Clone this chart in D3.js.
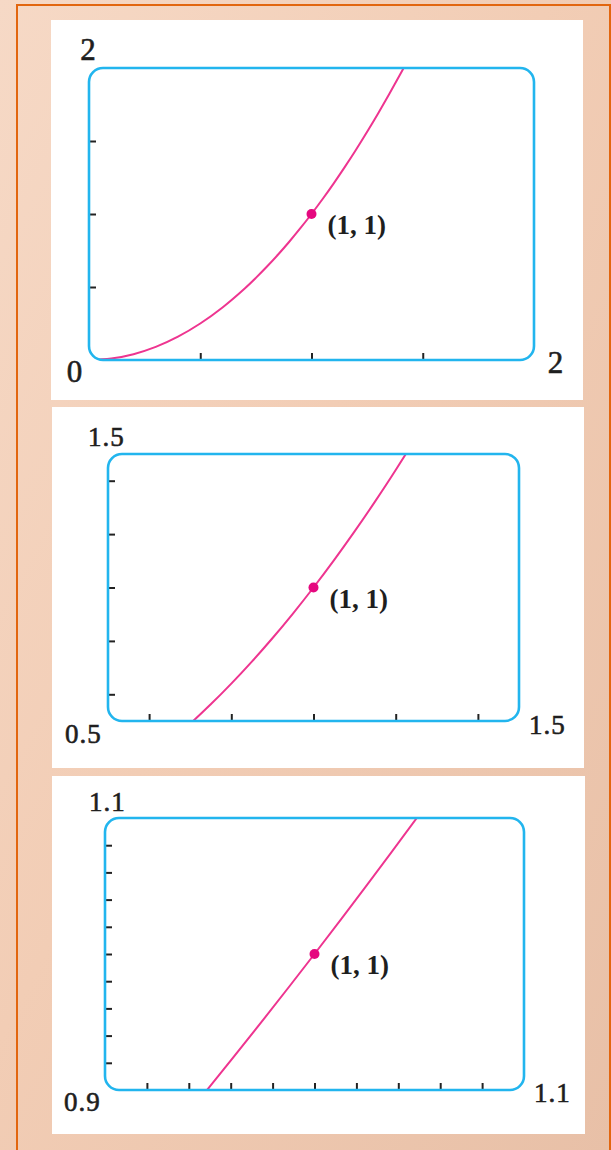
<!DOCTYPE html>
<html>
<head>
<meta charset="utf-8">
<script src="https://cdn.jsdelivr.net/npm/d3@7"></script>
<style>
  body { margin: 0; background: #f3d2bd; }
  svg { display: block; }
</style>
</head>
<body>
<div id="wrapper"></div>
<script>
// three zoom levels of y = x^2 around the point (1, 1)
const xDomains = [[0, 2], [0.5, 1.5], [0.9, 1.1]];
const yDomains = [[0, 2], [0.5, 1.5], [0.9, 1.1]];
const xTicks = [
    [0.5, 1, 1.5],
    [0.6, 0.8, 1.0, 1.2, 1.4],
    [0.92, 0.94, 0.96, 0.98, 1.0, 1.02, 1.04, 1.06, 1.08]
];
const yTicks = [
    [0.5, 1, 1.5],
    [0.6, 0.8, 1.0, 1.2, 1.4],
    [0.92, 0.94, 0.96, 0.98, 1.0, 1.02, 1.04, 1.06, 1.08]
];
const topLabels = ["2", "1.5", "1.1"];
const bottomLabels = ["0", "0.5", "0.9"];
const rightLabels = ["2", "1.5", "1.1"];

// curve
const curveX = [0, 0.1, 0.2, 0.3, 0.4, 0.5, 0.6, 0.7, 0.75, 0.8, 0.85, 0.9, 0.95, 1.0, 1.05, 1.1, 1.15, 1.2, 1.3, 1.4, 1.5];
const curveY = [0, 0.01, 0.04, 0.09, 0.16, 0.25, 0.36, 0.49, 0.5625, 0.64, 0.7225, 0.81, 0.9025, 1.0, 1.1025, 1.21, 1.3225, 1.44, 1.69, 1.96, 2.25];
const pointX = 1;
const pointY = 1;
const pointLabel = "(1, 1)";

// layout of each panel (white card + plot box)
const panels = [
    {card: [51, 20, 532, 380], box: [89, 68, 534, 360], font: 31,
     top: [88.5, 60, "middle"], bottom: [75, 382, "middle"], right: [556, 373, "middle"]},
    {card: [52, 407, 532, 361], box: [108, 454, 519, 721], font: 27,
     top: [88, 446, "start"], bottom: [65, 743, "start"], right: [529, 734, "start"]},
    {card: [52, 776, 533, 358], box: [105, 818, 524, 1090], font: 27,
     top: [89, 811, "start"], bottom: [64, 1111, "start"], right: [534, 1102, "start"]}
];

const dimension = {width: 611, height: 1150};

const svg = d3.select("#wrapper").append("svg")
    .attr("width", dimension.width)
    .attr("height", dimension.height);

const defs = svg.append("defs");
const grad = defs.append("linearGradient")
    .attr("id", "bg")
    .attr("x1", "0").attr("y1", "0")
    .attr("x2", "1").attr("y2", "1");
grad.append("stop").attr("offset", "0%").attr("stop-color", "#f6d9c6");
grad.append("stop").attr("offset", "45%").attr("stop-color", "#f2cdb5");
grad.append("stop").attr("offset", "100%").attr("stop-color", "#e8c0a7");

svg.append("rect")
    .attr("width", dimension.width)
    .attr("height", dimension.height)
    .attr("fill", "url(#bg)");

svg.append("rect")
    .attr("x", 17).attr("y", 5)
    .attr("width", 593).attr("height", 1170)
    .attr("fill", "none")
    .attr("stroke", "#e2660f")
    .attr("stroke-width", 2);

const line = d3.line().curve(d3.curveCatmullRom);

panels.forEach((p, i) => {
    const g = svg.append("g");
    const [bx0, by0, bx1, by1] = p.box;

    g.append("rect")
        .attr("x", p.card[0]).attr("y", p.card[1])
        .attr("width", p.card[2]).attr("height", p.card[3])
        .attr("fill", "white");

    const xScaler = d3.scaleLinear().domain(xDomains[i]).range([bx0, bx1]);
    const yScaler = d3.scaleLinear().domain(yDomains[i]).range([by1, by0]);

    defs.append("clipPath").attr("id", "clip" + i)
        .append("rect")
        .attr("x", bx0).attr("y", by0)
        .attr("width", bx1 - bx0).attr("height", by1 - by0)
        .attr("rx", 14).attr("ry", 14);

    // ticks point inward
    const xAxisGen = d3.axisBottom(xScaler).tickValues(xTicks[i]).tickSize(-7).tickFormat("");
    const yAxisGen = d3.axisLeft(yScaler).tickValues(yTicks[i]).tickSize(-7).tickFormat("");
    const xAxis = g.append("g").attr("transform", `translate(0,${by1})`).call(xAxisGen);
    const yAxis = g.append("g").attr("transform", `translate(${bx0},0)`).call(yAxisGen);
    [xAxis, yAxis].forEach(a => {
        a.select(".domain").remove();
        a.selectAll("line").attr("stroke", "#222").attr("stroke-width", 2);
    });

    const pts = curveX.map((x, k) => [xScaler(x), yScaler(curveY[k])]);
    g.append("path")
        .attr("d", line(pts))
        .attr("clip-path", `url(#clip${i})`)
        .attr("fill", "none")
        .attr("stroke", "#ee3590")
        .attr("stroke-width", 2);

    g.append("rect")
        .attr("x", bx0).attr("y", by0)
        .attr("width", bx1 - bx0).attr("height", by1 - by0)
        .attr("rx", 14).attr("ry", 14)
        .attr("fill", "none")
        .attr("stroke", "#22b5ee")
        .attr("stroke-width", 2.6);

    g.append("circle")
        .attr("cx", xScaler(pointX))
        .attr("cy", yScaler(pointY))
        .attr("r", 5)
        .attr("fill", "#e5087f");

    g.append("text")
        .attr("x", xScaler(pointX) + 16)
        .attr("y", yScaler(pointY) + 20)
        .text(pointLabel)
        .attr("font-family", "'Liberation Serif', 'DejaVu Serif', serif")
        .attr("font-weight", "bold")
        .attr("font-size", "27px")
        .attr("fill", "#1e1e1e");

    [[topLabels[i], p.top], [bottomLabels[i], p.bottom], [rightLabels[i], p.right]].forEach(([t, pos]) => {
        g.append("text")
            .attr("x", pos[0]).attr("y", pos[1])
            .attr("text-anchor", pos[2])
            .text(t)
            .attr("font-family", "'Liberation Serif', 'DejaVu Serif', serif")
            .attr("font-size", p.font + "px")
            .attr("letter-spacing", "1px")
            .attr("fill", "#1e1e1e")
            .attr("stroke", "#1e1e1e")
            .attr("stroke-width", 0.6);
    });
});
</script>
</body>
</html>
